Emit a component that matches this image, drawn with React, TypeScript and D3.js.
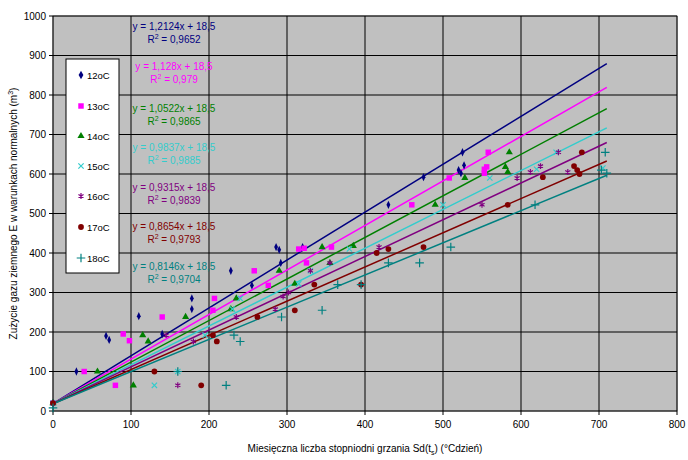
import * as d3 from 'd3';

const series = ['12oC', '13oC', '14oC', '15oC', '16oC', '17oC', '18oC'];
const colors = ['#000080', '#FF00FF', '#008000', '#33CCCC', '#800080', '#800000', '#008080'];
const slopes = [1.2124, 1.128, 1.0522, 0.9837, 0.9315, 0.8654, 0.8146];
const r2 = ['0,9652', '0,979', '0,9865', '0,9885', '0,9839', '0,9793', '0,9704'];
const slopeText = ['1,2124', '1,128', '1,0522', '0,9837', '0,9315', '0,8654', '0,8146'];
const intercept = 18.5;

const points: [number, number][][] = [
  [[0, 20], [30, 100], [68, 190], [72, 180], [110, 240], [140, 195], [178, 285], [178, 258], [228, 355], [255, 318], [286, 415], [290, 408], [292, 375], [320, 415], [430, 522], [475, 592], [520, 610], [525, 655], [527, 622], [523, 602]],
  [[0, 20], [40, 100], [80, 65], [90, 195], [98, 178], [140, 238], [205, 255], [207, 285], [258, 355], [276, 318], [315, 410], [325, 375], [322, 412], [357, 415], [460, 522], [508, 590], [553, 612], [556, 618], [558, 655], [553, 602]],
  [[0, 20], [57, 100], [103, 65], [115, 192], [122, 176], [170, 238], [228, 258], [235, 285], [290, 355], [310, 322], [345, 415], [355, 375], [385, 418], [490, 522], [528, 590], [583, 605], [585, 655], [580, 618]],
  [[0, 20], [130, 65], [160, 100], [195, 192], [230, 258], [240, 285], [315, 322], [330, 355], [380, 410], [500, 522], [560, 590], [620, 612], [645, 655], [705, 615]],
  [[0, 20], [160, 65], [145, 192], [180, 176], [235, 238], [285, 258], [295, 290], [302, 300], [330, 355], [355, 375], [418, 415], [550, 522], [595, 590], [612, 605], [648, 655], [625, 620], [660, 605]],
  [[0, 20], [130, 100], [190, 65], [205, 192], [210, 176], [262, 238], [310, 255], [335, 320], [395, 320], [415, 400], [430, 410], [475, 415], [583, 522], [628, 592], [678, 655], [668, 620], [672, 610], [675, 600]],
  [[0, 8], [160, 100], [222, 65], [232, 192], [240, 176], [293, 238], [345, 255], [365, 320], [395, 320], [430, 375], [470, 375], [510, 415], [618, 522], [708, 655], [703, 610], [710, 602]],
];

const symbols = [d3.symbolDiamond, d3.symbolSquare, d3.symbolTriangle, d3.symbolTimes, d3.symbolAsterisk, d3.symbolCircle, d3.symbolPlus];
const symSizes = [20, 30, 22, 20, 24, 26, 26];
const filled = [true, true, true, false, false, true, false];

const xTicks = d3.range(0, 801, 100);
const yTicks = d3.range(0, 1001, 100);

const eqY = [30, 70, 112, 151, 191, 230, 270];
const legendY = [75, 106, 136, 166, 196, 227, 258];

export default function App() {
  const W = 688, H = 460;
  const x = d3.scaleLinear().domain([0, 800]).range([53, 677]);
  const y = d3.scaleLinear().domain([0, 1000]).range([411, 16]);
  const font = 'Arial, "Liberation Sans", sans-serif';

  return (
    <svg width={W} height={H} style={{ position: 'absolute', left: 0, top: 0 }} fontFamily={font}>
      <rect width={W} height={H} fill="#fff" />
      <rect x={53} y={16} width={624} height={395} fill="#C0C0C0" stroke="#808080" />
      {yTicks.map((t) => (
        <g key={'y' + t}>
          <line x1={53} x2={677} y1={y(t)} y2={y(t)} stroke="#000" strokeWidth={1} />
          <line x1={49} x2={53} y1={y(t)} y2={y(t)} stroke="#000" />
          <text x={46} y={y(t) + 3.5} fontSize={10} textAnchor="end">{t}</text>
        </g>
      ))}
      {xTicks.map((t) => (
        <g key={'x' + t}>
          <line x1={x(t)} x2={x(t)} y1={16} y2={411} stroke="#000" strokeWidth={1} />
          <line x1={x(t)} x2={x(t)} y1={411} y2={415} stroke="#000" />
          <text x={x(t)} y={428} fontSize={10} textAnchor="middle">{t}</text>
        </g>
      ))}
      {slopes.map((a, i) => (
        <line key={'l' + i} x1={x(0)} y1={y(intercept)} x2={x(710)} y2={y(a * 710 + intercept)} stroke={colors[i]} strokeWidth={1.5} />
      ))}
      {points.map((pts, i) => {
        const path = d3.symbol(symbols[i], symSizes[i])() ?? '';
        return pts.map((p, j) => (
          <path key={i + '-' + j} d={path} transform={`translate(${x(p[0])},${y(p[1])})${i === 0 ? ' scale(0.8,1)' : ''}`}
            fill={filled[i] ? colors[i] : 'none'} stroke={colors[i]} strokeWidth={filled[i] ? 0 : 1.2} />
        ));
      })}
      {series.map((s, i) => (
        <g key={'e' + i} fontSize={10} fill={colors[i]} textAnchor="middle">
          <text x={174} y={eqY[i]}>{`y = ${slopeText[i]}x + 18,5`}</text>
          <text x={174} y={eqY[i] + 13}>R<tspan fontSize={7} dy={-4}>2</tspan><tspan dy={4}>{` = ${r2[i]}`}</tspan></text>
        </g>
      ))}
      <rect x={66} y={59} width={53} height={214} fill="#fff" stroke="#000" />
      {series.map((s, i) => {
        const path = d3.symbol(symbols[i], symSizes[i])() ?? '';
        return (
          <g key={'lg' + i}>
            <path d={path} transform={`translate(81,${legendY[i]})`} fill={filled[i] ? colors[i] : 'none'} stroke={colors[i]} strokeWidth={filled[i] ? 0 : 1.2} />
            <text x={87} y={legendY[i] + 3.5} fontSize={9.5}>{s}</text>
          </g>
        );
      })}
      <text transform={`translate(17,${y(500)}) rotate(-90)`} fontSize={10} textAnchor="middle">Zużycie gazu ziemnego E w warunkach normalnych (m<tspan fontSize={7} dy={-4}>3</tspan><tspan dy={4}>)</tspan></text>
      <text x={365} y={452} fontSize={10} textAnchor="middle">Miesięczna liczba stopniodni grzania Sd(t<tspan fontSize={7} dy={3}>s</tspan><tspan dy={-3}>) (°Cdzień)</tspan></text>
    </svg>
  );
}
